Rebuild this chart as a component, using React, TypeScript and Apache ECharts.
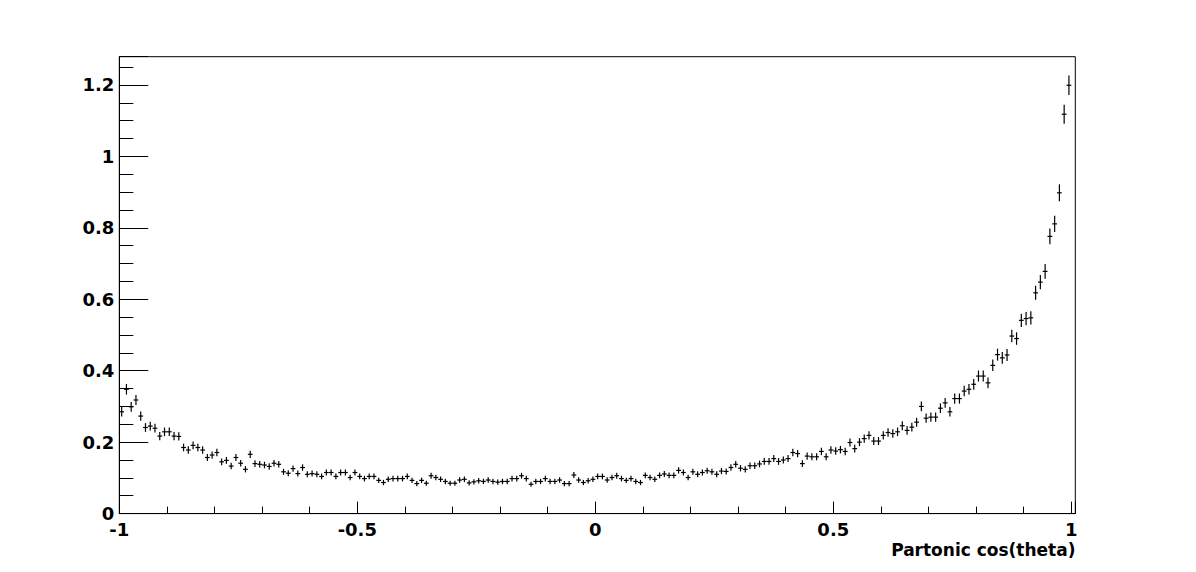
import React, { useEffect, useRef } from "react";
import * as echarts from "echarts";

// Histogram binning: 200 bins over [-1, 1]
const BIN_LOW = -1;
const BIN_HIGH = 1;
const N_BINS = 200;

// Bin contents (bins 0..199, left to right)
const valuesBins000to049 = [
  0.285, 0.348, 0.299, 0.318, 0.273, 0.241, 0.245, 0.239, 0.217, 0.229,
  0.229, 0.217, 0.216, 0.185, 0.178, 0.191, 0.185, 0.178, 0.157, 0.164,
  0.171, 0.145, 0.149, 0.133, 0.157, 0.141, 0.124, 0.166, 0.140, 0.138,
  0.136, 0.132, 0.141, 0.138, 0.117, 0.113, 0.126, 0.112, 0.129, 0.110,
  0.112, 0.110, 0.104, 0.115, 0.115, 0.104, 0.115, 0.115, 0.101, 0.115,
];
const valuesBins050to099 = [
  0.104, 0.098, 0.104, 0.104, 0.093, 0.087, 0.096, 0.098, 0.098, 0.098,
  0.104, 0.093, 0.084, 0.093, 0.085, 0.106, 0.101, 0.096, 0.090, 0.085,
  0.085, 0.094, 0.096, 0.086, 0.089, 0.092, 0.090, 0.094, 0.090, 0.088,
  0.090, 0.090, 0.098, 0.098, 0.106, 0.098, 0.082, 0.090, 0.090, 0.098,
  0.090, 0.090, 0.094, 0.084, 0.084, 0.108, 0.094, 0.087, 0.092, 0.096,
];
const valuesBins100to149 = [
  0.104, 0.104, 0.094, 0.101, 0.106, 0.098, 0.093, 0.098, 0.090, 0.087,
  0.107, 0.101, 0.096, 0.107, 0.111, 0.107, 0.107, 0.121, 0.115, 0.101,
  0.117, 0.110, 0.115, 0.120, 0.117, 0.110, 0.119, 0.118, 0.129, 0.138,
  0.127, 0.124, 0.134, 0.134, 0.139, 0.146, 0.146, 0.154, 0.146, 0.150,
  0.154, 0.171, 0.168, 0.140, 0.161, 0.159, 0.159, 0.174, 0.159, 0.178,
];
const valuesBins150to199 = [
  0.175, 0.179, 0.174, 0.199, 0.182, 0.200, 0.210, 0.219, 0.203, 0.203,
  0.219, 0.227, 0.224, 0.229, 0.246, 0.233, 0.242, 0.256, 0.300, 0.267,
  0.270, 0.270, 0.295, 0.310, 0.285, 0.322, 0.322, 0.343, 0.348, 0.362,
  0.385, 0.385, 0.366, 0.415, 0.445, 0.436, 0.444, 0.497, 0.490, 0.541,
  0.546, 0.548, 0.618, 0.648, 0.678, 0.776, 0.811, 0.898, 1.118, 1.199,
];

const binValues = [
  ...valuesBins000to049,
  ...valuesBins050to099,
  ...valuesBins100to149,
  ...valuesBins150to199,
];

// Statistical (sqrt-of-content) error scale of the histogram
const ERR_SCALE = 0.025;

const xTickLabels = ["-1", "-0.5", "0", "0.5", "1"];
const yTickLabels = ["0", "0.2", "0.4", "0.6", "0.8", "1", "1.2"];
const xTitle = "Partonic cos(theta)";

const X_MIN = -1;
const X_MAX = 1.0084;
const Y_MIN = 0;
const Y_MAX = 1.279;

const FONT = "'DejaVu Sans', Verdana, sans-serif";

export default function App() {
  const ref = useRef<HTMLDivElement>(null);

  useEffect(() => {
    if (!ref.current) return;
    const chart = echarts.init(ref.current, undefined, { renderer: "svg" });
    const binW = (BIN_HIGH - BIN_LOW) / N_BINS;
    const data = binValues.map((v, i) => {
      const c = BIN_LOW + (i + 0.5) * binW;
      return [c, v, ERR_SCALE * Math.sqrt(v)];
    });

    const near = (v: number, list: string[]) =>
      list.find((s) => Math.abs(parseFloat(s) - v) < 1e-6);

    const labelStyle = {
      fontFamily: FONT,
      fontWeight: "bold" as const,
      fontSize: 18,
      color: "#000",
    };

    chart.setOption({
      animation: false,
      backgroundColor: "#fff",
      grid: {
        left: 119.3,
        right: 120.7,
        top: 56.7,
        bottom: 58.4,
        show: true,
        borderColor: "#000",
        borderWidth: 1,
        backgroundColor: "transparent",
        containLabel: false,
      },
      xAxis: [
        {
          type: "value",
          min: X_MIN,
          max: X_MAX,
          interval: 0.5,
          position: "bottom",
          axisLine: { show: true, onZero: false, lineStyle: { color: "#000", width: 1 } },
          axisTick: { show: true, inside: true, length: 12, lineStyle: { color: "#000" } },
          splitLine: { show: false },
          axisLabel: {
            ...labelStyle,
            margin: 8,
            lineHeight: 16,
            formatter: (v: number) => near(v, xTickLabels) ?? "",
          },
        },
        {
          type: "value",
          min: X_MIN,
          max: X_MAX,
          interval: 0.1,
          position: "bottom",
          axisLine: { show: false, onZero: false },
          axisTick: { show: true, inside: true, length: 7, lineStyle: { color: "#000" } },
          splitLine: { show: false },
          axisLabel: { show: false },
        },
      ],
      yAxis: [
        {
          type: "value",
          min: Y_MIN,
          max: Y_MAX,
          interval: 0.2,
          position: "left",
          axisLine: { show: true, onZero: false, lineStyle: { color: "#000", width: 1 } },
          axisTick: { show: true, inside: true, length: 29, lineStyle: { color: "#000" } },
          splitLine: { show: false },
          axisLabel: {
            ...labelStyle,
            margin: 5,
            lineHeight: 13,
            formatter: (v: number) => near(v, yTickLabels) ?? "",
          },
        },
        {
          type: "value",
          min: Y_MIN,
          max: Y_MAX,
          interval: 0.05,
          position: "left",
          axisLine: { show: false, onZero: false },
          axisTick: { show: true, inside: true, length: 14, lineStyle: { color: "#000" } },
          splitLine: { show: false },
          axisLabel: { show: false },
        },
      ],
      graphic: [
        {
          type: "text",
          right: 120.5,
          top: 541,
          style: {
            text: xTitle,
            fontFamily: FONT,
            fontWeight: "bold",
            fontSize: 17,
            lineHeight: 17,
            fill: "#000",
            textAlign: "right",
          },
        },
      ],
      series: [
        {
          type: "custom",
          xAxisIndex: 0,
          yAxisIndex: 0,
          clip: false,
          data,
          renderItem: (params: any, api: any) => {
            const x = api.value(0);
            const y = api.value(1);
            const e = api.value(2);
            const pL = api.coord([x - binW / 2, y]);
            const pR = api.coord([x + binW / 2, y]);
            const pT = api.coord([x, y + e]);
            const pB = api.coord([x, y - e]);
            const st = { stroke: "#000", lineWidth: 1.2 };
            return {
              type: "group",
              children: [
                { type: "line", shape: { x1: pL[0], y1: pL[1], x2: pR[0], y2: pR[1] }, style: st },
                { type: "line", shape: { x1: pT[0], y1: pT[1], x2: pB[0], y2: pB[1] }, style: st },
              ],
            };
          },
        },
      ],
    });

    return () => chart.dispose();
  }, []);

  return (
    <div
      ref={ref}
      style={{ position: "absolute", left: 0, top: 0, width: 1196, height: 572 }}
    />
  );
}
